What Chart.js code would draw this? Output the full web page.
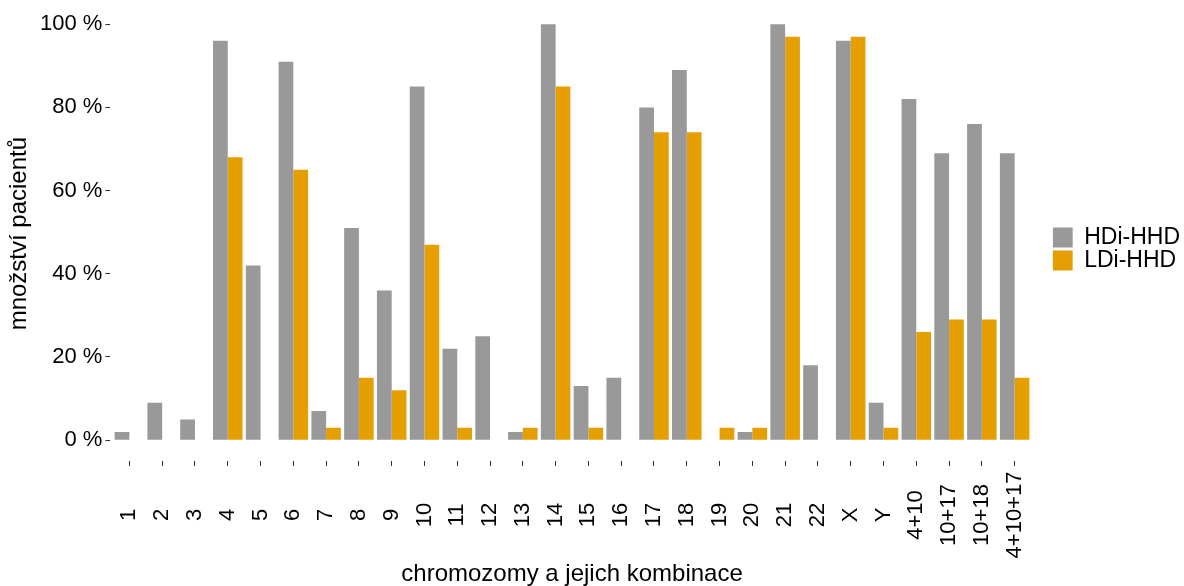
<!DOCTYPE html>
<html>
<head>
<meta charset="UTF-8">
<title>Chromozomy a jejich kombinace</title>
<script src="https://cdn.jsdelivr.net/npm/chart.js"></script>
<style>
  body { margin: 0; background: #fff; }
</style>
</head>
<body>
<canvas id="chart" width="1184" height="586"></canvas>
<script>
const categories = ['1','2','3','4','5','6','7','8','9','10','11','12','13','14','15','16','17','18','19','20','21','22','X','Y','4+10','10+17','10+18','4+10+17'];
const hdiHhd = [2,9,5,96,42,91,7,51,36,85,22,25,2,100,13,15,80,89,0,2,100,18,96,9,82,69,76,69];
const ldiHhd = [0,0,0,68,0,65,3,15,12,47,3,0,3,85,3,0,74,74,3,3,97,0,97,3,26,29,29,15];
const yTicks = [0,20,40,60,80,100];
const xTitle = 'chromozomy a jejich kombinace';

const FONT = '"Liberation Sans", Arial, sans-serif';

// category labels rotated and centred (ggplot style) + x title centred on the panel
const xLabels = {
  id: 'xLabels',
  afterDraw(chart) {
    const ctx = chart.ctx, x = chart.scales.x;
    const bottom = chart.chartArea.bottom;
    ctx.save();
    ctx.font = '22px ' + FONT;
    ctx.fillStyle = '#000';
    ctx.textAlign = 'center';
    ctx.textBaseline = 'middle';
    categories.forEach((c, i) => {
      ctx.save();
      ctx.translate(x.getPixelForValue(i + 1), bottom + 54);
      ctx.rotate(-Math.PI / 2);
      ctx.fillText(c, 0, 0);
      ctx.restore();
    });
    ctx.font = '24px ' + FONT;
    ctx.textBaseline = 'alphabetic';
    const mid = (x.getPixelForValue(0.4) + x.getPixelForValue(categories.length + 0.6)) / 2;
    ctx.fillText(xTitle, mid, bottom + 120);
    ctx.restore();
  }
};

new Chart(document.getElementById('chart'), {
  type: 'bar',
  data: {
    datasets: [
      { label: 'HDi-HHD', data: hdiHhd.map((v, i) => ({ x: i + 1, y: v })), backgroundColor: '#999999' },
      { label: 'LDi-HHD', data: ldiHhd.map((v, i) => ({ x: i + 1, y: v })), backgroundColor: '#E69F00' }
    ]
  },
  options: {
    responsive: false,
    animation: false,
    datasets: { bar: { categoryPercentage: 0.9, barPercentage: 1.0, borderWidth: 0 } },
    layout: { padding: { right: -6, bottom: 120 } },
    plugins: {
      tooltip: { enabled: false },
      legend: {
        position: 'right',
        align: 'start',
        title: { display: true, text: '', font: { size: 10 }, padding: { top: 214, bottom: 0 } },
        labels: {
          boxWidth: 20, boxHeight: 20, padding: 0,
          color: '#000',
          font: { family: FONT, size: 23 }
        }
      }
    },
    scales: {
      x: {
        type: 'linear',
        offset: false,
        min: 0.42,
        max: 29.16,
        afterBuildTicks: s => { s.ticks = categories.map((c, i) => ({ value: i + 1 })); },
        ticks: { display: false },
        grid: { drawOnChartArea: false, tickLength: 5, color: '#333', offset: false },
        border: { display: false }
      },
      y: {
        min: -5,
        max: 104.3,
        afterBuildTicks: s => { s.ticks = yTicks.map(v => ({ value: v })); },
        ticks: { callback: v => v + ' %', color: '#000', padding: 3, font: { family: FONT, size: 22, lineHeight: 0.3 } },
        grid: { drawOnChartArea: false, tickLength: 5, color: '#333' },
        border: { display: false },
        title: {
          display: true, text: 'množství pacientů', color: '#000',
          font: { family: FONT, size: 24 }, padding: { top: 4.6, bottom: 3.6 }
        }
      }
    }
  },
  plugins: [xLabels]
});
</script>
</body>
</html>
